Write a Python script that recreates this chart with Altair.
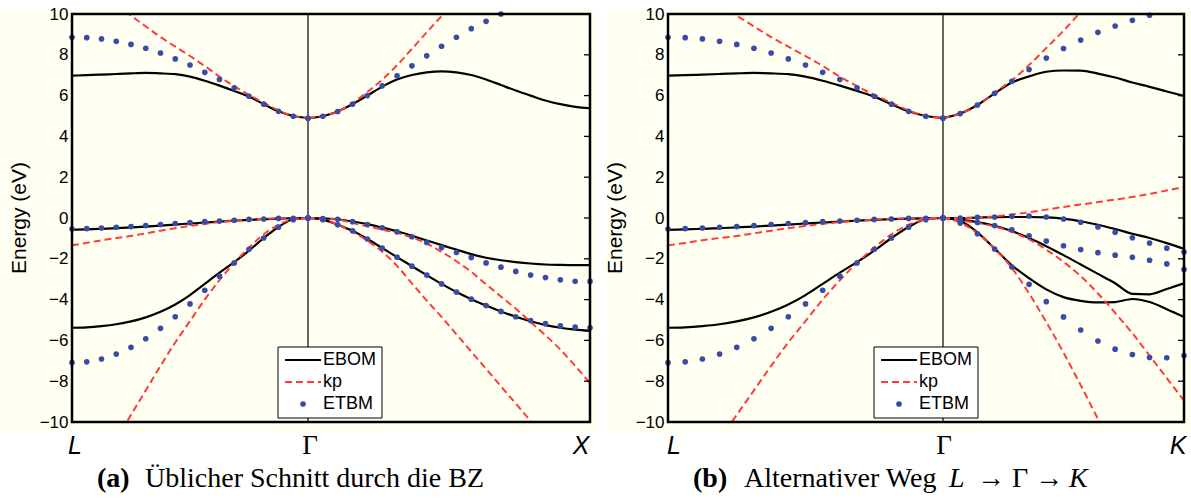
import altair as alt
import pandas as pd

# ---------------------------------------------------------------
# Data (energies in eV)
# ---------------------------------------------------------------
# L -> Gamma half (identical path in both panels), 16 intervals: index 0 = L, 16 = Gamma
N_LG = 16
etbm_LG_cb = [8.86, 8.84, 8.78, 8.66, 8.51, 8.32, 8.09, 7.80, 7.50, 7.14, 6.79, 6.38, 5.97, 5.58, 5.23, 4.99, 4.89]
etbm_LG_v1 = [-0.54, -0.52, -0.49, -0.455, -0.42, -0.37, -0.32, -0.27, -0.23, -0.18, -0.15, -0.11, -0.07, -0.05, -0.02, -0.01, 0.0]
etbm_LG_v2 = [-7.09, -7.05, -6.91, -6.67, -6.34, -5.92, -5.41, -4.84, -4.21, -3.54, -2.85, -2.20, -1.53, -0.98, -0.45, -0.08, 0.0]

ebom_LG_cb = [6.98, 7.00, 7.03, 7.06, 7.09, 7.11, 7.09, 7.05, 6.93, 6.73, 6.49, 6.23, 5.95, 5.58, 5.23, 5.00, 4.90]
ebom_LG_v1 = [-0.58, -0.56, -0.53, -0.50, -0.46, -0.42, -0.37, -0.32, -0.27, -0.22, -0.18, -0.13, -0.09, -0.06, -0.03, -0.01, 0.0]
ebom_LG_v2 = [-5.38, -5.36, -5.30, -5.21, -5.07, -4.87, -4.60, -4.24, -3.78, -3.23, -2.68, -2.16, -1.60, -0.98, -0.44, -0.06, 0.0]

KP_LG_START = 3  # kp bands below start at index 3 (outside the window before)
kp_LG_cb = [10.45, 9.92, 9.39, 8.87, 8.40, 7.94, 7.45, 6.93, 6.46, 6.04, 5.65, 5.27, 5.00, 4.90]
kp_LG_v1 = [-1.34, -1.22, -1.09, -0.98, -0.88, -0.75, -0.62, -0.50, -0.39, -0.29, -0.20, -0.13, -0.08, -0.04, -0.02, -0.005, 0.0]
kp_LG_v2 = [-10.85, -9.65, -8.45, -7.25, -6.10, -5.05, -4.00, -3.05, -2.20, -1.45, -0.80, -0.33, -0.07, 0.0]

# Gamma -> X (panel a), 19 intervals: index 0 = Gamma, 19 = X
N_GX = 19
etbm_GX_cb = [4.89, 4.99, 5.22, 5.58, 6.00, 6.48, 6.97, 7.46, 7.95, 8.42, 8.86, 9.28, 9.64, 10.0]
etbm_GX_v1 = [0.0, -0.03, -0.06, -0.18, -0.32, -0.48, -0.68, -0.92, -1.20, -1.45, -1.69, -1.94, -2.20, -2.41, -2.62, -2.80, -2.92, -3.03, -3.10, -3.11]
etbm_GX_v2 = [0.0, -0.08, -0.33, -0.63, -1.03, -1.47, -1.92, -2.36, -2.80, -3.23, -3.63, -3.98, -4.29, -4.58, -4.84, -5.03, -5.18, -5.29, -5.35, -5.38]

ebom_GX_cb = [4.90, 4.99, 5.22, 5.58, 6.00, 6.44, 6.79, 7.01, 7.14, 7.19, 7.14, 7.01, 6.79, 6.52, 6.25, 6.00, 5.76, 5.58, 5.45, 5.38]
ebom_GX_v1 = [0.0, -0.02, -0.06, -0.17, -0.30, -0.47, -0.65, -0.87, -1.10, -1.33, -1.55, -1.77, -1.95, -2.07, -2.16, -2.23, -2.28, -2.30, -2.31, -2.31]
ebom_GX_v2 = [0.0, -0.08, -0.33, -0.63, -1.03, -1.47, -1.92, -2.36, -2.80, -3.23, -3.63, -3.98, -4.29, -4.58, -4.84, -5.06, -5.25, -5.38, -5.47, -5.53]

kp_GX_cb = [4.90, 5.00, 5.22, 5.63, 6.18, 6.78, 7.49, 8.29, 9.10, 9.90, 10.70]
kp_GX_v1 = [0.0, -0.03, -0.07, -0.24, -0.41, -0.57, -0.73, -0.96, -1.25, -1.66, -2.12, -2.64, -3.25, -3.85, -4.45, -5.10, -5.75, -6.45, -7.25, -8.10]
kp_GX_v2 = [0.0, -0.08, -0.33, -0.68, -1.12, -1.65, -2.35, -3.20, -4.05, -4.85, -5.70, -6.55, -7.40, -8.25, -9.10, -9.95, -10.80]

# Gamma -> K (panel b), 14 intervals: index 0 = Gamma, 14 = K
N_GK = 14
etbm_GK_cb = [4.90, 5.12, 5.54, 6.11, 6.70, 7.28, 7.84, 8.31, 8.72, 9.10, 9.41, 9.69, 9.94]
etbm_GK_v1 = [0.0, 0.0, 0.03, 0.05, 0.08, 0.10, 0.05, -0.05, -0.21, -0.44, -0.70, -0.97, -1.23, -1.48, -1.67]
etbm_GK_v2 = [0.0, -0.12, -0.22, -0.37, -0.58, -0.87, -1.13, -1.36, -1.55, -1.70, -1.82, -1.93, -2.07, -2.25, -2.52]
etbm_GK_v3 = [0.0, -0.25, -0.77, -1.52, -2.40, -3.25, -4.10, -4.85, -5.49, -6.03, -6.43, -6.69, -6.84, -6.85, -6.74]

ebom_GK_cb = [4.90, 5.12, 5.54, 6.11, 6.64, 6.94, 7.17, 7.23, 7.22, 7.08, 6.89, 6.64, 6.43, 6.20, 5.98]
ebom_GK_v1 = [0.0, 0.0, 0.02, 0.04, 0.05, 0.05, 0.03, -0.03, -0.16, -0.33, -0.54, -0.77, -0.98, -1.23, -1.51]
ebom_GK_v2 = [0.0, -0.08, -0.20, -0.38, -0.64, -0.98, -1.38, -1.82, -2.28, -2.74, -3.20, -3.72, -3.74, -3.48, -3.20]
ebom_GK_v3 = [0.0, -0.15, -0.70, -1.50, -2.32, -2.95, -3.50, -3.88, -4.06, -4.14, -4.12, -3.97, -4.12, -4.47, -4.85]

kp_GK_cb = [4.90, 5.12, 5.50, 6.15, 6.75, 7.50, 8.33, 9.18, 10.10]
kp_GK_v1 = [0.0, 0.0, 0.03, 0.08, 0.17, 0.28, 0.41, 0.54, 0.66, 0.78, 0.90, 1.03, 1.18, 1.35, 1.52]
kp_GK_v2 = [0.0, -0.12, -0.24, -0.42, -0.68, -1.05, -1.55, -2.15, -2.85, -3.70, -4.65, -5.65, -6.75, -7.85, -8.95]
kp_GK_v3 = [0.0, -0.22, -0.75, -1.50, -2.45, -3.70, -5.10, -6.60, -8.20, -9.85, -11.50]

# Gamma position as a fraction of each panel's path length
GAMMA_A = 236 / 518
GAMMA_B = 275 / 516

Y_TICKS = [-10, -8, -6, -4, -2, 0, 2, 4, 6, 8, 10]
LEGEND_LABELS = ["EBOM", "kp", "ETBM"]

# ---------------------------------------------------------------
CREAM = "#FFFFF2"
RED = "#FF3B3B"
BLUE = "#3A4BA6"
SANS = "Liberation Sans"
SERIF = "Liberation Serif"
DOT = 32


def rows(panel, series, band, values, side, n_right, gfrac, start=0):
    out = []
    for k, v in enumerate(values):
        idx = start + k
        if side == "L":
            x = gfrac * idx / N_LG
        else:
            x = gfrac + (1 - gfrac) * idx / n_right
        out.append({"x": x, "E": v, "band": f"{panel}-{band}-{side}", "series": series})
    return out


def build_df(panel, gfrac, n_right, right_sets):
    r = []
    r += rows(panel, "ETBM", "cb", etbm_LG_cb, "L", n_right, gfrac)
    r += rows(panel, "ETBM", "v1", etbm_LG_v1, "L", n_right, gfrac)
    r += rows(panel, "ETBM", "v2", etbm_LG_v2, "L", n_right, gfrac)
    r += rows(panel, "EBOM", "cb", ebom_LG_cb, "L", n_right, gfrac)
    r += rows(panel, "EBOM", "v1", ebom_LG_v1, "L", n_right, gfrac)
    r += rows(panel, "EBOM", "v2", ebom_LG_v2, "L", n_right, gfrac)
    r += rows(panel, "kp", "cb", kp_LG_cb, "L", n_right, gfrac, KP_LG_START)
    r += rows(panel, "kp", "v1", kp_LG_v1, "L", n_right, gfrac)
    r += rows(panel, "kp", "v2", kp_LG_v2, "L", n_right, gfrac, KP_LG_START)
    for series, band, vals in right_sets:
        r += rows(panel, series, band, vals, "R", n_right, gfrac)
    return pd.DataFrame(r)


df_a = build_df("a", GAMMA_A, N_GX, [
    ("ETBM", "cb", etbm_GX_cb), ("ETBM", "v1", etbm_GX_v1), ("ETBM", "v2", etbm_GX_v2),
    ("EBOM", "cb", ebom_GX_cb), ("EBOM", "v1", ebom_GX_v1), ("EBOM", "v2", ebom_GX_v2),
    ("kp", "cb", kp_GX_cb), ("kp", "v1", kp_GX_v1), ("kp", "v2", kp_GX_v2),
])
df_b = build_df("b", GAMMA_B, N_GK, [
    ("ETBM", "cb", etbm_GK_cb), ("ETBM", "v1", etbm_GK_v1), ("ETBM", "v2", etbm_GK_v2), ("ETBM", "v3", etbm_GK_v3),
    ("EBOM", "cb", ebom_GK_cb), ("EBOM", "v1", ebom_GK_v1), ("EBOM", "v2", ebom_GK_v2), ("EBOM", "v3", ebom_GK_v3),
    ("kp", "cb", kp_GK_cb), ("kp", "v1", kp_GK_v1), ("kp", "v2", kp_GK_v2), ("kp", "v3", kp_GK_v3),
])

H = 408


def make_panel(df, gfrac, W, bg_left, end_label, end_dx, l_dx, g_dx, caption_layers):
    xs = alt.Scale(domain=[0, 1], nice=False, zero=False)
    ys = alt.Scale(domain=[-10, 10], nice=False, zero=False)
    X = alt.X("x:Q", scale=xs, axis=None)
    Y = alt.Y("E:Q", scale=ys, axis=alt.Axis(
        values=Y_TICKS, ticks=False, domain=False, grid=False, title=None, zindex=2,
        labelFont=SANS, labelFontSize=17, labelColor="black", labelPadding=4))
    one = pd.DataFrame({"d": [0]})

    bg = alt.Chart(one).mark_rect(color=CREAM).encode(
        x=alt.value(bg_left), x2=alt.value(W + 7), y=alt.value(-4), y2=alt.value(H + 11))
    gamma_line = alt.Chart(pd.DataFrame({"x": [gfrac]})).mark_rule(
        color="black", strokeWidth=1.2).encode(x=X)
    ebom = alt.Chart(df[df.series == "EBOM"]).mark_line(
        color="black", strokeWidth=2.2, interpolate="monotone", clip=True).encode(
        x=X, y=Y, detail="band:N")
    kp = alt.Chart(df[df.series == "kp"]).mark_line(
        color=RED, strokeWidth=2, strokeDash=[7, 4], interpolate="monotone", clip=True).encode(
        x=X, y=Y, detail="band:N")
    etbm = alt.Chart(df[df.series == "ETBM"]).mark_circle(
        color=BLUE, size=DOT, opacity=1).encode(x=X, y=Y)
    ticks = alt.Chart(pd.DataFrame({"E": Y_TICKS})).mark_rule(
        color="black", strokeWidth=1.3).encode(y=Y, x=alt.value(W - 6), x2=alt.value(W))
    frame = alt.Chart(one).mark_rect(
        fillOpacity=0, stroke="black", strokeWidth=2.5).encode(
        x=alt.value(0), x2=alt.value(W), y=alt.value(0), y2=alt.value(H))

    # legend
    lg_box = alt.Chart(one).mark_rect(fill="white", stroke="black", strokeWidth=1).encode(
        x=alt.value(206), x2=alt.value(310), y=alt.value(333), y2=alt.value(404))
    lg_l1 = alt.Chart(one).mark_rule(color="black", strokeWidth=2.2).encode(
        x=alt.value(213), x2=alt.value(249), y=alt.value(346))
    lg_l2 = alt.Chart(one).mark_rule(color=RED, strokeWidth=2, strokeDash=[7, 4]).encode(
        x=alt.value(213), x2=alt.value(249), y=alt.value(368))
    lg_dot = alt.Chart(one).mark_circle(color=BLUE, size=DOT, opacity=1).encode(
        x=alt.value(231), y=alt.value(390))
    lg_txt = [
        alt.Chart(one).mark_text(text=lab, align="left", baseline="middle", font=SANS,
                                 fontSize=18, color="black").encode(
            x=alt.value(251), y=alt.value(yy))
        for lab, yy in zip(LEGEND_LABELS, [346, 368, 390])
    ]

    # k-point labels
    kl = pd.DataFrame({"x": [0.0, gfrac, 1.0], "lab": ["L", "Γ", end_label]})
    k_L = alt.Chart(kl.iloc[[0]]).mark_text(
        font=SANS, fontStyle="italic", fontSize=25, baseline="alphabetic", dx=l_dx, color="black").encode(
        x=X, y=alt.value(440), text="lab:N")
    k_G = alt.Chart(kl.iloc[[1]]).mark_text(
        font=SERIF, fontSize=27, baseline="alphabetic", dx=g_dx, color="black").encode(
        x=X, y=alt.value(440), text="lab:N")
    k_E = alt.Chart(kl.iloc[[2]]).mark_text(
        font=SANS, fontStyle="italic", fontSize=25, baseline="alphabetic", dx=end_dx, color="black").encode(
        x=X, y=alt.value(440), text="lab:N")

    ylab = alt.Chart(one).mark_text(
        text="Energy (eV)", font=SANS, fontSize=21, angle=270, align="center",
        baseline="middle", color="black").encode(x=alt.value(-52), y=alt.value(204))

    caps = []
    for txt, xpos, weight, style in caption_layers:
        caps.append(alt.Chart(one).mark_text(
            text=txt, font=SERIF, fontSize=28, fontWeight=weight, fontStyle=style,
            align="left", baseline="alphabetic", color="black").encode(
            x=alt.value(xpos), y=alt.value(473)))

    return alt.layer(
        bg, gamma_line, ebom, kp, etbm, ticks, frame,
        lg_box, lg_l1, lg_l2, lg_dot, *lg_txt,
        k_L, k_G, k_E, ylab, *caps
    ).properties(width=W, height=H)


panel_a = make_panel(
    df_a, GAMMA_A, 518, -72, "X", -9, 3, 2,
    [("(a)", 25, "bold", "normal"), ("Üblicher Schnitt durch die BZ", 73, "normal", "normal")])
panel_b = make_panel(
    df_b, GAMMA_B, 516, -61, "K", -6, 6, 1,
    [("(b)", 25, "bold", "normal"), ("Alternativer Weg", 76, "normal", "normal"),
     ("L", 281, "normal", "italic"), ("→ Γ →", 309, "normal", "normal"),
     ("K", 401, "normal", "italic")])

chart = alt.hconcat(panel_a, panel_b, spacing=8).properties(
    padding={"left": 0, "top": 5, "right": 0, "bottom": 0},
    background="white",
).configure_view(strokeWidth=0)

chart.save("out.html", embed_options={"renderer": "svg", "actions": False})
